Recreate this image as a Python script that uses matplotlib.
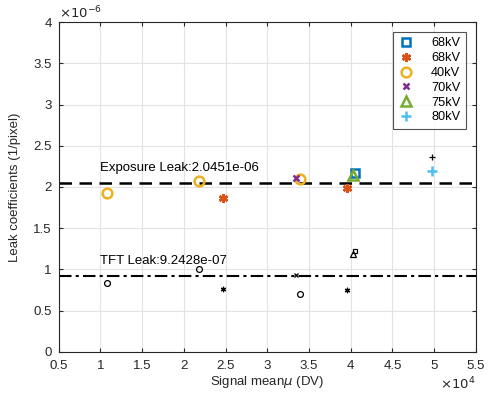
import matplotlib.pyplot as plt
import numpy as np
from matplotlib.ticker import FuncFormatter

plt.rcParams['font.family'] = ['Liberation Sans', 'DejaVu Sans']
plt.rcParams['font.size'] = 9.5

# series: label, signal mean (DV), exposure leak, TFT leak
labels = ['68kV', '68kV', '40kV', '70kV', '75kV', '80kV']
sig_mean = [[4.05e4], [2.47e4, 3.95e4], [1.075e4, 2.18e4, 3.39e4], [3.35e4], [4.03e4], [4.97e4]]
exp_leak = [[2.17e-6], [1.867e-6, 1.99e-6], [1.927e-6, 2.07e-6, 2.097e-6], [2.11e-6], [2.15e-6], [2.19e-6]]
tft_leak = [[1.22e-6], [0.764e-6, 0.75e-6], [0.836e-6, 1.006e-6, 0.70e-6], [0.93e-6], [1.19e-6], [2.36e-6]]

exposure_mean = 2.0451e-06
tft_mean = 9.2428e-07

colors = ['#0072BD', '#D95319', '#EDB120', '#7E2F8E', '#77AC30', '#4DBEEE']
markers = ['s', (6, 2, 0), 'o', 'x', '^', '+']
msizes = [5.5, 6.5, 7, 5, 7, 7]

fig = plt.figure(figsize=(4.9, 3.94), dpi=100)
ax = fig.add_axes([0.120, 0.107, 0.851, 0.837])

for i in range(len(labels)):
    ax.plot(sig_mean[i], exp_leak[i], linestyle='none', marker=markers[i], color=colors[i],
            mfc='none', mew=1.8, ms=msizes[i], label=labels[i])
    ax.plot(sig_mean[i], tft_leak[i], linestyle='none', marker=markers[i], color='black',
            mfc='none', mew=0.9, ms=msizes[i] * 0.6)

ax.axhline(exposure_mean, color='black', linestyle=(0, (5, 3)), linewidth=1.8, zorder=1)
ax.axhline(tft_mean, color='black', linestyle=(0, (6, 2, 1.5, 2)), linewidth=1.5, zorder=1)
ax.text(0.99e4, 2.23e-6, 'Exposure Leak:%.4e' % exposure_mean, va='center')
ax.text(0.99e4, 1.10e-6, 'TFT Leak:%.4e' % tft_mean, va='center')

ax.set_xlim(0.5e4, 5.5e4)
ax.set_ylim(0, 4e-6)
ax.set_xticks(np.arange(0.5e4, 5.51e4, 0.5e4))
ax.set_yticks(np.arange(0, 4.01e-6, 0.5e-6))
ax.xaxis.set_major_formatter(FuncFormatter(lambda v, p: '%g' % round(v / 1e4, 2)))
ax.yaxis.set_major_formatter(FuncFormatter(lambda v, p: '%g' % round(v / 1e-6, 2)))
ax.tick_params(direction='in', top=True, right=True, length=3, colors='#262626', labelcolor='#262626')
ax.tick_params(axis='x', pad=6)
ax.tick_params(axis='y', pad=5)
ax.grid(True, color='#e3e3e3', linewidth=0.8)
ax.set_axisbelow(True)
for s in ax.spines.values():
    s.set_color('#262626')
    s.set_linewidth(0.8)

ax.set_xlabel('Signal mean$\\mu$ (DV)', labelpad=1, color='#262626')
ax.set_ylabel('Leak coefficients (1/pixel)', labelpad=9, color='#262626')
ax.text(0.0, 1.003, '$\\times10^{-6}$', transform=ax.transAxes, ha='left', va='bottom', color='#262626')
ax.text(1.0, -0.072, '$\\times10^{4}$', transform=ax.transAxes, ha='right', va='top', color='#262626')

leg = ax.legend(loc='upper right', fancybox=False, edgecolor='#262626', handletextpad=1.4,
                borderpad=0.4, labelspacing=0.22, handlelength=1.2, borderaxespad=0.8,
                fontsize=9.2)
leg.get_frame().set_linewidth(0.8)

fig.savefig('out.png', dpi=100)
